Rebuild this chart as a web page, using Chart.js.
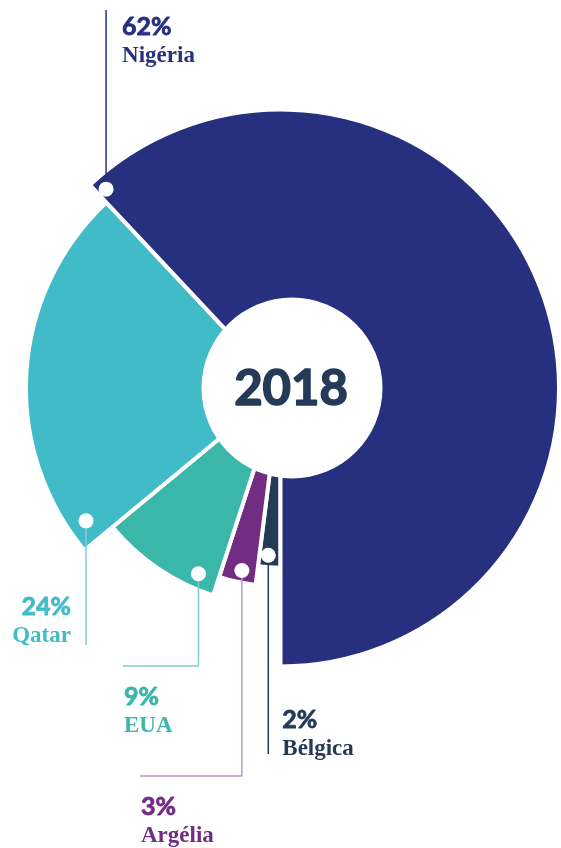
<!DOCTYPE html>
<html>
<head>
<meta charset="utf-8">
<script src="https://cdn.jsdelivr.net/npm/chart.js@4.4.1/dist/chart.umd.min.js"></script>
<style>
  html, body { margin: 0; padding: 0; background: #fff; }
  canvas { display: block; }
</style>
</head>
<body>
<canvas id="chart" width="561" height="848"></canvas>
<script>
// data
const categories = ['Bélgica', 'Argélia', 'EUA', 'Qatar', 'Nigéria'];
const shares = [2, 3, 9, 24, 62];
const yearLabel = '2018';

// styles
const sliceColors = ['#253a57', '#722d83', '#3bb7aa', '#42bbc8', '#26307e'];
const leaderColors = ['#253a57', '#b99bcb', '#7dd0c6', '#7fcfd6', '#26307e'];
const radiusScale = [0.645, 0.713, 0.783, 0.914, 1];
// where the dot sits inside each slice, and where the leader line goes
const callouts = [
  { frac: 0.58, inset: 10, endY: 754, align: 'left', dx: 14, pctY: 728 },
  { frac: 0.44, inset: 10, endY: 776, elbowX: 140, align: 'left', dx: 1, pctY: 815 },
  { frac: 0.18, inset: 13, endY: 666, elbowX: 123, align: 'left', dx: 1, pctY: 705 },
  { frac: 0.061, inset: 17, endY: 645, align: 'right', dx: -15, pctY: 615 },
  { frac: 0.0087, inset: 12, endY: 10, align: 'left', dx: 16, pctY: 35 },
];
const holeRadius = 90.5;
const holeShift = 11.5;

const pctFont = 'bold 25px Lato, "DejaVu Sans", sans-serif';
const nameFont = 'bold 23px "Liberation Serif", "DejaVu Serif", serif';

// heavier sans text: fill plus a thin stroke of the same colour
function boldText(ctx, text, x, y, weight) {
  ctx.lineWidth = weight;
  ctx.lineJoin = 'round';
  ctx.strokeStyle = ctx.fillStyle;
  ctx.strokeText(text, x, y);
  ctx.fillText(text, x, y);
}

// give every slice its own outer radius
const radialSlices = {
  id: 'radialSlices',
  beforeDatasetsDraw(chart) {
    const meta = chart.getDatasetMeta(0);
    const base = meta.controller.outerRadius;
    meta.data.forEach((arc, i) => {
      arc.outerRadius = base * radiusScale[i];
    });
  },
  afterDatasetsDraw(chart) {
    const ctx = chart.ctx;
    const meta = chart.getDatasetMeta(0);
    const arc0 = meta.data[0];
    const cx = arc0.x, cy = arc0.y;

    // centre hole
    ctx.save();
    ctx.fillStyle = '#fff';
    ctx.beginPath();
    ctx.arc(cx + holeShift, cy, holeRadius, 0, Math.PI * 2);
    ctx.fill();
    ctx.fillStyle = '#253a57';
    ctx.font = 'bold 49px Lato, "DejaVu Sans", sans-serif';
    ctx.textAlign = 'center';
    ctx.textBaseline = 'middle';
    boldText(ctx, yearLabel, cx + holeShift - 1, cy + 1, 1.6);

    // callouts
    meta.data.forEach((arc, i) => {
      const c = callouts[i];
      const a = arc.startAngle + c.frac * (arc.endAngle - arc.startAngle);
      const r = arc.outerRadius - 2 - c.inset;
      const x = cx + r * Math.cos(a);
      const y = cy + r * Math.sin(a);

      ctx.strokeStyle = leaderColors[i];
      ctx.lineWidth = 1.5;
      ctx.beginPath();
      ctx.moveTo(x, y);
      ctx.lineTo(x, c.endY);
      if (c.elbowX !== undefined) ctx.lineTo(c.elbowX, c.endY);
      ctx.stroke();

      ctx.fillStyle = '#fff';
      ctx.beginPath();
      ctx.arc(x, y, 7.5, 0, Math.PI * 2);
      ctx.fill();

      const tx = (c.elbowX !== undefined ? c.elbowX : x) + c.dx;
      ctx.fillStyle = sliceColors[i];
      ctx.textAlign = c.align;
      ctx.textBaseline = 'alphabetic';
      ctx.font = pctFont;
      boldText(ctx, shares[i] + '%', tx, c.pctY, 0.8);
      ctx.font = nameFont;
      ctx.fillText(categories[i], tx, c.pctY + 27);
    });
    ctx.restore();
  }
};

const chart = new Chart(document.getElementById('chart'), {
  type: 'doughnut',
  data: {
    labels: categories,
    datasets: [{
      data: shares,
      backgroundColor: sliceColors,
      borderColor: '#fff',
      borderWidth: 4,
      hoverOffset: 0,
    }],
  },
  plugins: [radialSlices],
  options: {
    responsive: false,
    animation: false,
    events: [],
    rotation: 180,
    cutout: 60,
    layout: {
      padding: { top: 107.5, bottom: 179.5, left: 0, right: 0 },
    },
    plugins: {
      legend: { display: false },
      tooltip: { enabled: false },
    },
  },
});
</script>
</body>
</html>
